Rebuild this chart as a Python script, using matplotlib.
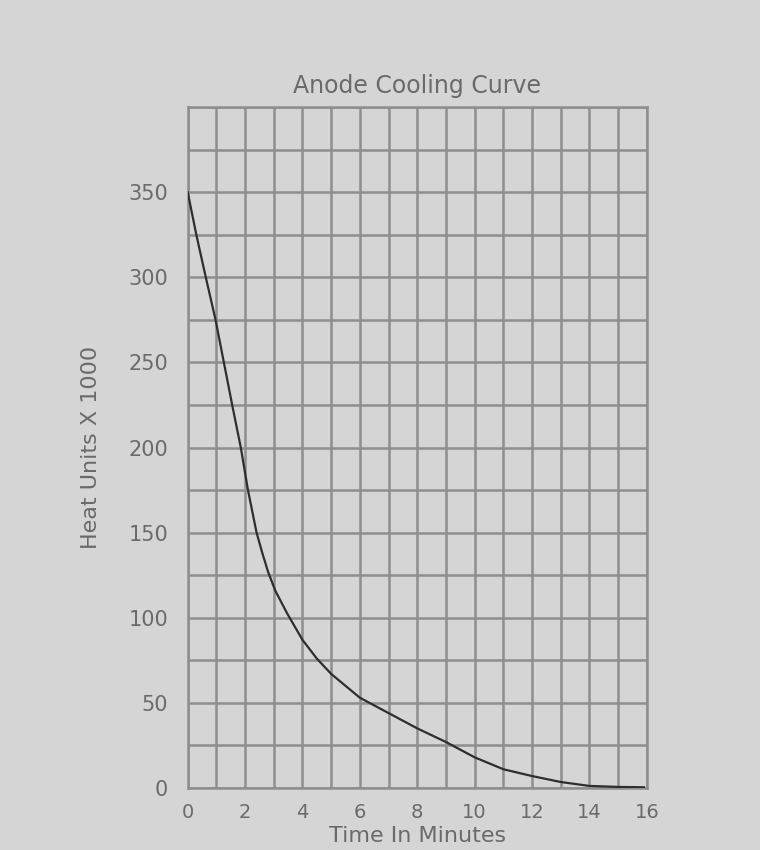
import matplotlib
matplotlib.use("Agg")
import matplotlib.pyplot as plt
import numpy as np

# Data
time_min = [0, 0.3, 0.63, 0.97, 1.26, 1.55, 1.85, 2.1, 2.4, 2.6, 2.8, 3.05, 3.45,
            4.0, 4.5, 5.0, 6.0, 7.0, 8.0, 9.0, 10.0, 11.0, 12.0, 13.0, 14.0, 15.0, 15.9]
heat_units = [350, 325, 300, 275, 250, 225, 200, 175, 150, 138, 127, 116, 103,
              87, 76, 67, 53, 44, 35, 27, 18, 11, 7, 3.5, 1.2, 0.6, 0.4]

x_ticks = [0, 2, 4, 6, 8, 10, 12, 14, 16]
y_ticks = [0, 50, 100, 150, 200, 250, 300, 350]

title = "Anode Cooling Curve"
xlabel = "Time In Minutes"
ylabel = "Heat Units X 1000"

bg = "#d5d5d5"
grid_c = "#8e8e8e"
text_c = "#6a6a6a"

plt.rcParams['font.family'] = ['DejaVu Sans']

fig = plt.figure(figsize=(7.6, 8.5), dpi=100, facecolor=bg)
ax = fig.add_axes([0.247, 0.073, 0.604, 0.801], facecolor=bg)

ax.set_xlim(0, 16)
ax.set_ylim(0, 400)

ax.set_xticks(np.arange(0, 17, 1), minor=True)
ax.set_yticks(np.arange(0, 401, 25), minor=True)
ax.set_xticks(x_ticks)
ax.set_yticks(y_ticks)
ax.set_xticklabels([str(v) for v in x_ticks])
ax.set_yticklabels([str(v) for v in y_ticks])

ax.grid(True, which='both', color=grid_c, linewidth=1.8)
ax.set_axisbelow(True)
ax.tick_params(which='both', length=0)
ax.tick_params(axis='x', pad=11, labelsize=14, labelcolor=text_c)
ax.tick_params(axis='y', pad=14, labelsize=15, labelcolor=text_c)
for s in ax.spines.values():
    s.set_color(grid_c)
    s.set_linewidth(1.8)

ax.plot(time_min, heat_units, color="#2e2e2e", linewidth=1.6, zorder=3)

ax.set_title(title, fontsize=17, color=text_c, pad=10)
ax.set_xlabel(xlabel, fontsize=16, color=text_c, labelpad=3)
ax.set_ylabel(ylabel, fontsize=16, color=text_c, labelpad=20)

fig.savefig("out.png", dpi=100, facecolor=bg)
